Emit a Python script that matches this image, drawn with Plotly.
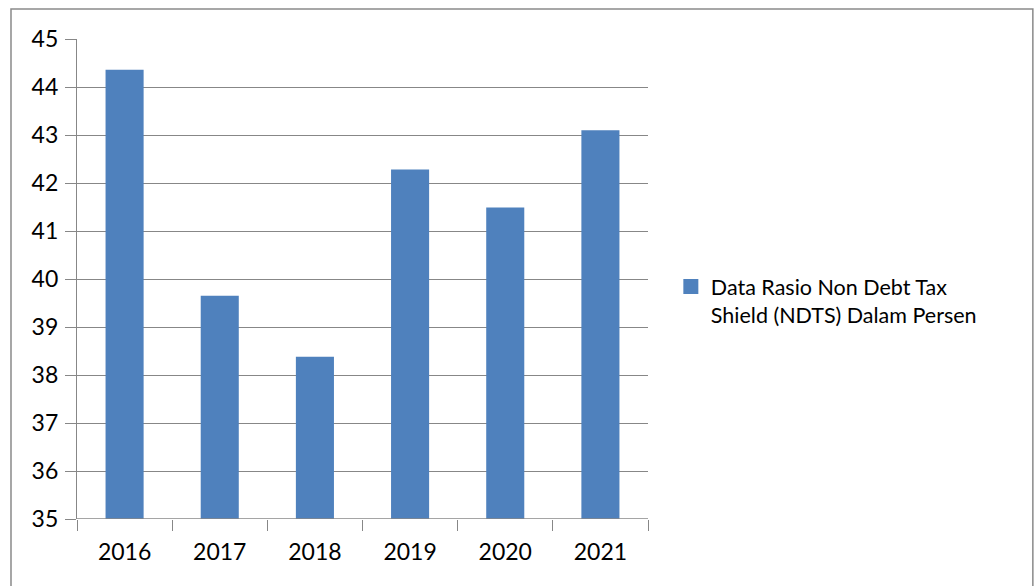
import plotly.graph_objects as go

years = ["2016", "2017", "2018", "2019", "2020", "2021"]
ndts = [44.36, 39.65, 38.38, 42.28, 41.49, 43.10]
series_name = "Data Rasio Non Debt Tax<br>Shield (NDTS) Dalam Persen"
y_ticks = [35, 36, 37, 38, 39, 40, 41, 42, 43, 44, 45]

FONT = "Lato, 'Open Sans', sans-serif"
GRID = "#878787"
BAR = "#4F81BD"

fig = go.Figure()
fig.add_trace(go.Bar(
    x=years, y=ndts, name=series_name,
    marker=dict(color=BAR, line=dict(width=0)),
    showlegend=False,
))
# legend entry with a larger square swatch
fig.add_trace(go.Scatter(
    x=[None], y=[None], mode="markers", name=series_name,
    marker=dict(symbol="square", size=15, color=BAR),
    showlegend=True,
))

fig.update_layout(
    width=1034, height=586,
    margin=dict(l=77, r=386, t=39, b=67),
    paper_bgcolor="white", plot_bgcolor="white",
    bargap=0.6,
    font=dict(family=FONT, size=23, color="#000000"),
    showlegend=True,
    legend=dict(x=1.04, y=0.455, xanchor="left", yanchor="middle",
                font=dict(size=21.5), itemsizing="trace", valign="top",
                itemwidth=30,
                bgcolor="rgba(0,0,0,0)", tracegroupgap=0),
    xaxis=dict(
        type="category", tickson="boundaries",
        ticks="outside", ticklen=11, tickcolor=GRID, tickwidth=1.3,
        showline=False, showgrid=False, zeroline=False,
        tickfont=dict(size=23), ticklabelstandoff=17,
    ),
    yaxis=dict(
        range=[35, 45], tickvals=y_ticks, ticktext=[str(v) for v in y_ticks],
        ticks="outside", ticklen=11, tickcolor=GRID, tickwidth=1.3,
        showgrid=True, gridcolor=GRID, gridwidth=1.3,
        showline=True, linecolor=GRID, linewidth=1.3,
        zeroline=False, tickfont=dict(size=23), ticklabelstandoff=2,
    ),
    shapes=[
        # outer chart frame
        dict(type="rect", xref="paper", yref="paper",
             x0=-0.1156, x1=1.674, y0=-0.2, y1=1.0625,
             line=dict(color="#8a8a8a", width=1.5), fillcolor="rgba(0,0,0,0)",
             layer="below"),
        # baseline
        dict(type="line", xref="paper", yref="y", x0=0, x1=1, y0=35, y1=35,
             line=dict(color=GRID, width=1.3)),
    ],
)

fig.write_html("out.html")
